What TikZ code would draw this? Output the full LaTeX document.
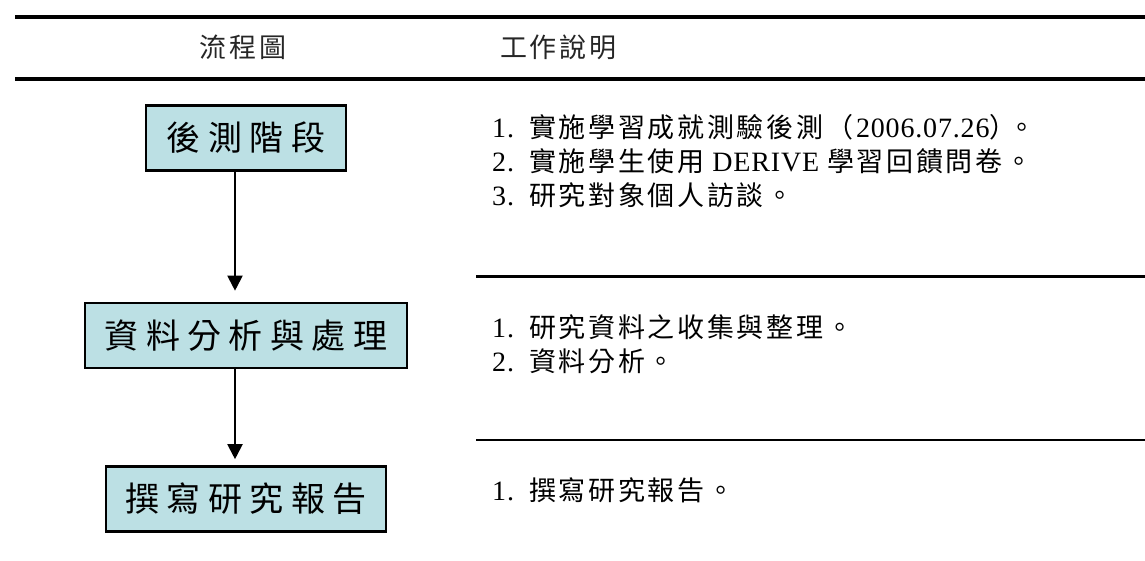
\documentclass[tikz,border=0pt]{standalone}
\usepackage{fontspec}
\setmainfont{Liberation Serif}[LetterSpace=3]
\newfontfamily\cjk{Noto Sans CJK TC}[LetterSpace=10]
\newfontfamily\cjkbox{Noto Sans CJK TC}[LetterSpace=22]
\newfontfamily\cjkhead{Noto Sans CJK TC}[LetterSpace=10]
\usetikzlibrary{arrows.meta}
\definecolor{boxfill}{HTML}{BCE0E4}
\begin{document}
\begin{tikzpicture}[x=1pt,y=-1pt,
  stepbox/.style={draw=black,line width=2.6pt,fill=boxfill,minimum height=65pt,inner sep=0pt,font=\fontsize{34}{38}\cjkbox},
  desc/.style={anchor=base west,inner sep=0pt,font=\fontsize{28}{32}\selectfont},
  head/.style={inner sep=0pt,font=\fontsize{27}{30}\cjkhead\color{black!85}},
  thickrule/.style={line width=4pt},
  seprule/.style={line width=2.8pt},
  flow/.style={line width=2pt,-{Triangle[width=15pt,length=15pt]}}]
\useasboundingbox (0,0) rectangle (1145,561);
% header rules
\coordinate (t1) at (15,17);   \coordinate (t2) at (1145,17);
\coordinate (m1) at (15,79);   \coordinate (m2) at (1145,79);
\draw[thickrule] (t1) -- (t2);
\draw[thickrule] (m1) -- (m2);
\node[head] (hflow) at (243,47.5) {流程圖\hspace{-2.7pt}};
\node[head,anchor=west] (hdesc) at (500,47.5) {工作說明};
% boxes
\node[stepbox,minimum width=200pt] (b1) at (246,138) {後測階段\hspace{-7.5pt}};
\node[stepbox,minimum width=322pt] (b2) at (246,335.5) {資料分析與處理\hspace{-7.5pt}};
\node[stepbox,minimum width=280pt] (b3) at (246,499) {撰寫研究報告\hspace{-7.5pt}};
\draw[flow,shorten >=11pt] ([xshift=-11pt]b1.south) -- ([xshift=-11pt]b2.north);
\draw[flow,shorten >=6pt] ([xshift=-11pt]b2.south) -- ([xshift=-11pt]b3.north);
% separators
\coordinate (s1a) at (476,276.5); \coordinate (s1b) at (1145,276.5);
\coordinate (s2a) at (476,440); \coordinate (s2b) at (1145,440);
\draw[seprule] (s1a) -- (s1b);
\draw[seprule] (s2a) -- (s2b);
% descriptions
\newcommand{\cj}[1]{{\fontsize{27}{30}\cjk #1}}
\node[desc] (d11) at (492,138) {1.\hspace{15pt}\cj{實施學習成就測驗後測（}\hspace{3pt}2006.07.26\cj{）}\hspace{-8pt}\cj{。}};
\node[desc] (d12) at (492,172) {2.\hspace{15pt}\cj{實施學生使用} DERIVE \cj{學習回饋問卷。}};
\node[desc] (d13) at (492,206) {3.\hspace{15pt}\cj{研究對象個人訪談。}};
\node[desc] (d21) at (492,337) {1.\hspace{15pt}\cj{研究資料之收集與整理。}};
\node[desc] (d22) at (492,371) {2.\hspace{15pt}\cj{資料分析。}};
\node[desc] (d31) at (492,500) {1.\hspace{15pt}\cj{撰寫研究報告。}};
\end{tikzpicture}
\end{document}
